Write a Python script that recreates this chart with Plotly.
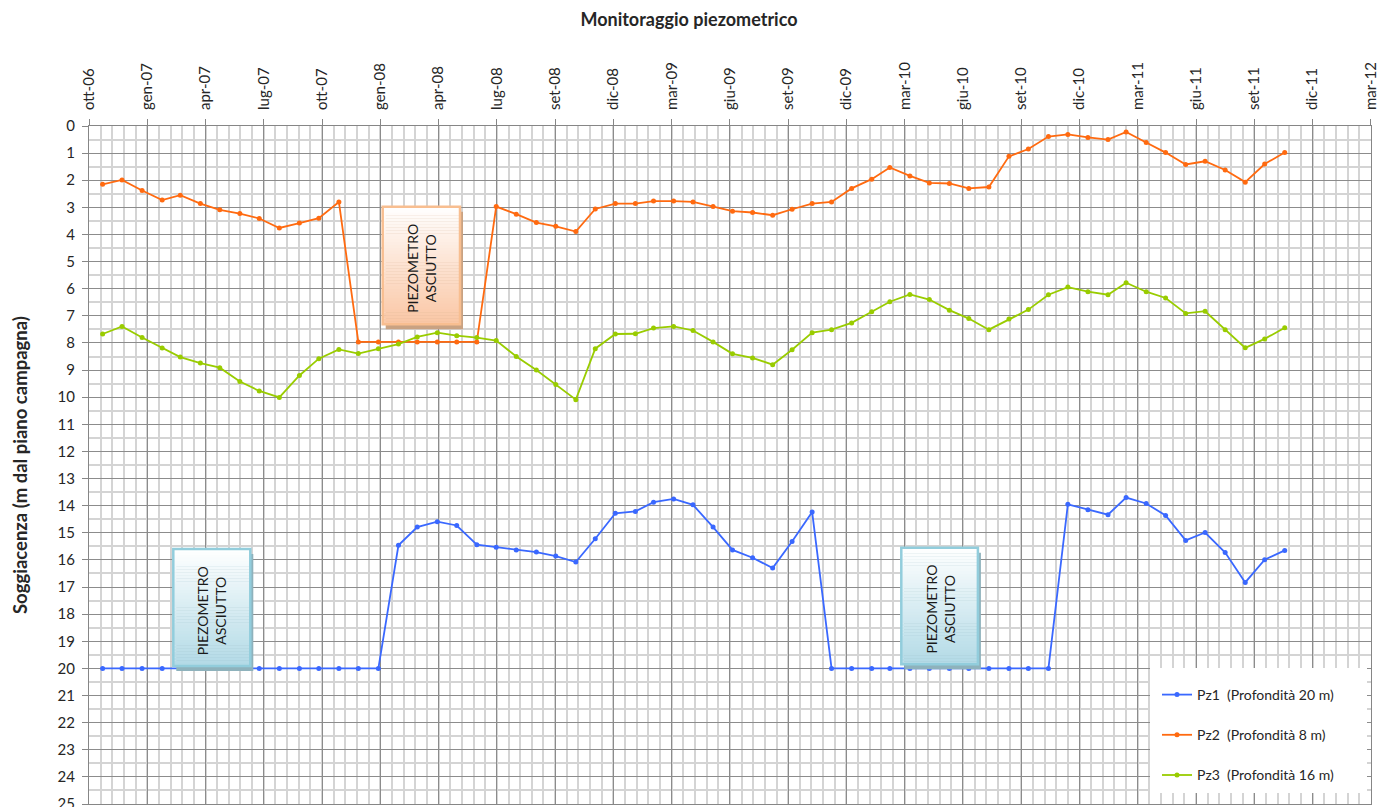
import plotly.graph_objects as go
import pandas as pd

# ---------------- DATA ----------------
MEAS_MONTHS = [
    "2006-10", "2006-11", "2006-12",
    "2007-01", "2007-02", "2007-03", "2007-04", "2007-05", "2007-06",
    "2007-07", "2007-08", "2007-09", "2007-10", "2007-11", "2007-12",
    "2008-01", "2008-02", "2008-03", "2008-04", "2008-05", "2008-06",
    "2008-07", "2008-08", "2008-09", "2008-10", "2008-11", "2008-12",
    "2009-01", "2009-02", "2009-03", "2009-04", "2009-05", "2009-06",
    "2009-07", "2009-08", "2009-09", "2009-10", "2009-11", "2009-12",
    "2010-01", "2010-02", "2010-03", "2010-04", "2010-05", "2010-06",
    "2010-07", "2010-08", "2010-09", "2010-10", "2010-11", "2010-12",
    "2011-01", "2011-02", "2011-03", "2011-04", "2011-05", "2011-06",
    "2011-07", "2011-08", "2011-09", "2011-10",
]

PZ1 = [20.0, 20.0, 20.0,
       20.0, 20.0, 20.0, 20.0, 20.0, 20.0, 20.0, 20.0, 20.0, 20.0, 20.0, 20.0,
       15.46, 14.79, 14.59, 14.73, 15.44, 15.53, 15.63, 15.71, 15.86, 16.08, 15.22, 14.28,
       14.21, 13.87, 13.75, 13.97, 14.79, 15.63, 15.92, 16.30, 15.32, 14.23, 20.0, 20.0,
       20.0, 20.0, 20.0, 20.0, 20.0, 20.0, 20.0, 20.0, 20.0, 20.0, 13.95, 14.15,
       14.33, 13.70, 13.92, 14.36, 15.28, 14.99, 15.73, 16.83, 15.99, 15.65]

PZ2 = [2.15, 1.99, 2.38,
       2.73, 2.55, 2.86, 3.09, 3.23, 3.41, 3.76, 3.58, 3.40, 2.80, 7.96, 7.96,
       7.96, 7.96, 7.96, 7.96, 7.96, 2.97, 3.25, 3.56, 3.70, 3.89, 3.06, 2.86,
       2.86, 2.77, 2.77, 2.80, 2.97, 3.14, 3.19, 3.29, 3.07, 2.86, 2.80, 2.30,
       1.96, 1.53, 1.84, 2.10, 2.12, 2.30, 2.25, 1.12, 0.85, 0.39, 0.31, 0.42,
       0.50, 0.22, 0.61, 0.98, 1.42, 1.30, 1.62, 2.07, 1.40, 0.98]

PZ3 = [7.67, 7.39, 7.80,
       8.19, 8.52, 8.74, 8.91, 9.42, 9.77, 10.01, 9.20, 8.58, 8.24, 8.39, 8.21,
       8.04, 7.78, 7.62, 7.73, 7.80, 7.91, 8.50, 9.00, 9.53, 10.09, 8.21, 7.67,
       7.66, 7.45, 7.39, 7.54, 7.96, 8.40, 8.55, 8.80, 8.25, 7.62, 7.51, 7.26,
       6.85, 6.48, 6.21, 6.40, 6.79, 7.10, 7.51, 7.12, 6.77, 6.22, 5.94, 6.11,
       6.22, 5.78, 6.11, 6.34, 6.91, 6.83, 7.51, 8.18, 7.85, 7.44]

SERIES_NAMES = ["Pz1\u00a0 (Profondità 20 m)",
                "Pz2\u00a0 (Profondità 8 m)",
                "Pz3\u00a0 (Profondità 16 m)"]

X_TICK_LABELS = ["ott-06", "gen-07", "apr-07", "lug-07", "ott-07", "gen-08",
                 "apr-08", "lug-08", "set-08", "dic-08", "mar-09", "giu-09",
                 "set-09", "dic-09", "mar-10", "giu-10", "set-10", "dic-10",
                 "mar-11", "giu-11", "set-11", "dic-11", "mar-12"]

BOX_TEXT = "PIEZOMETRO<br>ASCIUTTO"

# ---------------- LAYOUT CONSTANTS ----------------
W, H = 1378, 807
ML, MR, MT, MB = 89, 7, 126, 3
PW, PH = W - ML - MR, H - MT - MB
FONT = "Lato, 'Open Sans', sans-serif"
TXT = "#262626"

AXIS_START = pd.Timestamp("2006-10-10")
STEP_DAYS = 90
MINOR_DAYS = 18
tickvals = [AXIS_START + pd.Timedelta(days=STEP_DAYS * k) for k in range(len(X_TICK_LABELS))]
axis_end = tickvals[-1] + pd.Timedelta(hours=6)

dates = pd.to_datetime(MEAS_MONTHS) + pd.offsets.MonthEnd(0)

COLORS = ["#3A68FF", "#FF6A10", "#99CC00"]

fig = go.Figure()
for name, vals, col in zip(SERIES_NAMES, [PZ1, PZ2, PZ3], COLORS):
    fig.add_trace(go.Scatter(
        x=dates, y=vals, name=name, mode="lines+markers",
        line=dict(color=col, width=1.8),
        marker=dict(color=col, size=5),
        legendgroup=name,
    ))


def px_x(px):
    return (px - ML) / PW


def px_y(py):
    return 1 - (py - MT) / PH


def lerp(c0, c1, t):
    return "rgb(%d,%d,%d)" % tuple(round(a + (b - a) * t) for a, b in zip(c0, c1))


shapes = []
annotations = []

# white background behind legend
shapes.append(dict(type="rect", xref="paper", yref="paper",
                   x0=px_x(1150), x1=px_x(1367), y0=px_y(793), y1=px_y(668),
                   fillcolor="white", line=dict(width=0), layer="above"))

BOXES = [
    # (left, top, right, bottom) px, top colour, bottom colour, border, shadow
    ((382.7, 206.7, 460.0, 324.3), (255, 255, 255), (250, 198, 164), "#F8BE90", "#C9A282"),
    ((173.3, 549.0, 250.3, 666.0), (255, 255, 255), (178, 218, 230), "#92CDDC", "#8EB2BC"),
    ((901.3, 547.7, 977.9, 664.3), (255, 255, 255), (178, 218, 230), "#92CDDC", "#8EB2BC"),
]
NSTRIP = 40
for (l, t, r, b), c0, c1, border, shadow in BOXES:
    shapes.append(dict(type="rect", xref="paper", yref="paper",
                       x0=px_x(l + 3), x1=px_x(r + 3), y0=px_y(b + 5), y1=px_y(t + 5),
                       fillcolor=shadow, line=dict(width=0), layer="above"))
    hh = (b - t) / NSTRIP
    for i in range(NSTRIP):
        shapes.append(dict(type="rect", xref="paper", yref="paper",
                           x0=px_x(l), x1=px_x(r),
                           y0=px_y(t + (i + 1) * hh + 0.3), y1=px_y(t + i * hh),
                           fillcolor=lerp(c0, c1, (i + 0.5) / NSTRIP),
                           line=dict(width=0), layer="above"))
    shapes.append(dict(type="rect", xref="paper", yref="paper",
                       x0=px_x(l), x1=px_x(r), y0=px_y(b), y1=px_y(t),
                       fillcolor="rgba(0,0,0,0)", line=dict(color=border, width=2.5),
                       layer="above"))
    annotations.append(dict(xref="paper", yref="paper",
                            x=px_x((l + r) / 2), y=px_y((t + b) / 2 + 3),
                            text=BOX_TEXT, textangle=-90, showarrow=False,
                            font=dict(family=FONT, size=14, color="#1a1a1a"),
                            xanchor="center", yanchor="middle"))

# y-axis title
annotations.append(dict(xref="paper", yref="paper", x=px_x(20), y=px_y(465),
                        text="<b>Soggiacenza (m dal piano campagna)</b>",
                        textangle=-90, showarrow=False,
                        font=dict(family=FONT, size=18.5, color=TXT),
                        xanchor="center", yanchor="middle"))

fig.update_layout(
    width=W, height=H,
    margin=dict(l=ML, r=MR, t=MT, b=MB, autoexpand=False),
    paper_bgcolor="white", plot_bgcolor="white",
    title=dict(text="<b>Monitoraggio piezometrico</b>", x=0.5, xref="container",
               xanchor="center", y=1 - 20 / H, yref="container", yanchor="middle",
               font=dict(family=FONT, size=18, color=TXT)),
    font=dict(family=FONT, color=TXT),
    showlegend=True,
    legend=dict(x=px_x(1157), y=px_y(679), xanchor="left", yanchor="top",
                bgcolor="rgba(0,0,0,0)", borderwidth=0,
                font=dict(family=FONT, size=14, color=TXT),
                tracegroupgap=19, itemwidth=30),
    shapes=shapes,
    annotations=annotations,
)

fig.update_xaxes(
    type="date", side="top", range=[AXIS_START, axis_end], automargin=False,
    tickmode="array", tickvals=tickvals, ticktext=X_TICK_LABELS,
    tickangle=-90, tickfont=dict(family=FONT, size=15, color=TXT),
    ticks="outside", ticklen=6, tickcolor="#868686", ticklabelstandoff=6,
    ticklabeloverflow="allow",
    showgrid=True, gridcolor="#8C8C8C", gridwidth=1,
    minor=dict(dtick=MINOR_DAYS * 86400000, tick0=AXIS_START, showgrid=True,
               gridcolor="#D4D4D4", gridwidth=1.5, ticks=""),
    showline=True, mirror=True, linecolor="#868686", linewidth=1,
    zeroline=False,
)
fig.update_yaxes(
    range=[25, 0], tickmode="linear", tick0=0, dtick=1, automargin=False,
    tickfont=dict(family=FONT, size=15, color=TXT),
    ticks="outside", ticklen=6, tickcolor="#868686", ticklabelstandoff=4,
    ticklabeloverflow="allow",
    showgrid=True, gridcolor="#8C8C8C", gridwidth=1,
    minor=dict(dtick=0.5, showgrid=True, gridcolor="#D4D4D4", gridwidth=1.5, ticks=""),
    showline=True, mirror=True, linecolor="#868686", linewidth=1,
    zeroline=False,
)

fig.write_html("out.html", config={"displayModeBar": False},
               post_script="document.body.style.margin='0';document.body.style.overflow='hidden';")
